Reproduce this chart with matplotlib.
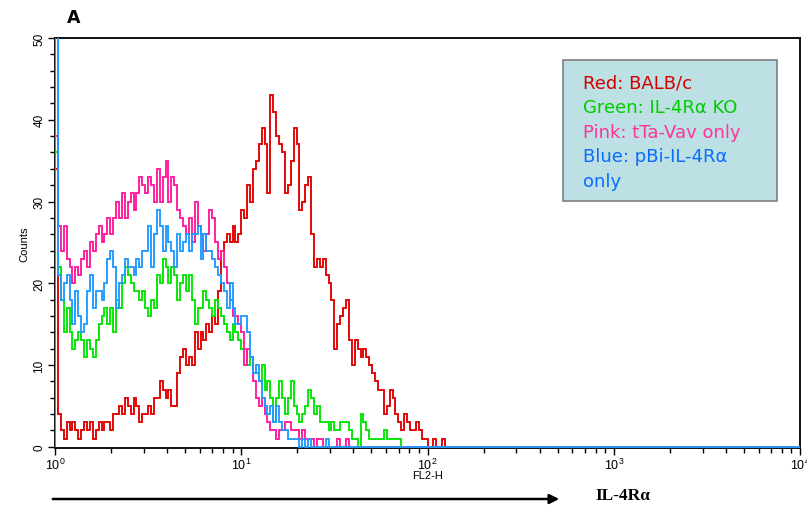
import numpy as np
import matplotlib
matplotlib.use("Agg")
import matplotlib.pyplot as plt
from matplotlib.patches import Rectangle, FancyArrowPatch

plt.rcParams['font.family'] = ['Liberation Sans', 'DejaVu Sans']
plt.rcParams['mathtext.fontset'] = 'custom'
plt.rcParams['mathtext.rm'] = 'Liberation Sans'
plt.rcParams['mathtext.it'] = 'Liberation Sans'

# ---- data: counts per channel (64 channels per decade, 256 channels over 10^0..10^4)
red = [34, 4, 2, 1, 3, 2, 3, 2, 1, 2, 3, 2, 3, 1, 2, 3, 2, 3, 3, 2, 4,
       4, 5, 4, 6, 5, 4, 6, 5, 3, 4,
       4, 5, 4, 6, 6, 8, 7, 6, 7, 5,
       5, 9, 11, 12, 10, 11, 10, 14, 12, 14,
       13, 15, 14, 16, 15, 19, 24, 25, 26, 25,
       27, 25, 26, 29, 28, 32, 30, 34, 35, 37,
       39, 37, 31, 43, 41, 38, 37, 36, 31, 32,
       35, 39, 37, 29, 30, 32, 33, 26, 22, 23,
       22, 23, 21, 20, 18, 12, 15, 16, 17, 18,
       13, 10, 13, 12, 11, 12, 11, 10, 9, 8,
       7, 7, 4, 5, 7, 6, 4, 3, 2, 4,
       3, 2, 2, 3, 2, 1, 1, 0, 0, 1,
       0, 0, 1, 0]
green = [36, 22, 18, 14, 17, 14, 12, 13, 14, 13, 11,
         13, 12, 11, 13, 15, 16, 17, 15, 17, 14,
         18, 17, 20, 22, 21, 20, 19, 19, 18, 19,
         17, 16, 18, 17, 21, 20, 23, 22, 20, 22,
         21, 18, 20, 21, 19, 21, 18, 15, 17, 17,
         19, 18, 17, 16, 18, 17, 16, 15, 14, 13,
         15, 14, 13, 12, 12, 10, 11, 9, 9, 8,
         10, 7, 8, 6, 3, 6, 8, 6, 4, 6,
         8, 5, 4, 3, 4, 5, 7, 6, 4, 5,
         3, 3, 3, 2, 3, 2, 2, 3, 3, 3,
         2, 1, 1, 0, 4, 3, 2, 1, 1, 1,
         1, 1, 2, 1, 1, 1, 1, 1, 0]
pink = [38, 27, 24, 27, 23, 22, 20, 22, 21, 23, 24,
        22, 25, 24, 26, 27, 25, 26, 28, 26, 28,
        30, 28, 31, 28, 30, 31, 29, 31, 33, 32,
        31, 33, 32, 30, 34, 30, 33, 35, 30, 33,
        32, 29, 28, 27, 26, 28, 25, 30, 27, 26,
        24, 26, 29, 28, 25, 23, 24, 22, 20, 18,
        16, 16, 15, 14, 10, 12, 11, 8, 6, 5,
        6, 4, 3, 2, 2, 1, 2, 2, 3, 3,
        2, 2, 2, 1, 2, 1, 1, 1, 0, 1,
        1, 0, 0, 0, 0, 0, 1, 0, 0, 1,
        0]
blue = [60, 21, 18, 20, 21, 18, 15, 19, 16, 14, 15,
        19, 21, 17, 19, 19, 18, 20, 23, 24, 22,
        17, 20, 21, 23, 22, 22, 21, 23, 22, 24,
        24, 27, 22, 26, 29, 27, 24, 27, 25, 24,
        22, 26, 24, 25, 26, 24, 26, 26, 27, 23,
        26, 24, 24, 23, 22, 21, 20, 19, 17, 20,
        17, 15, 15, 16, 16, 14, 11, 9, 10, 8,
        6, 5, 4, 5, 3, 5, 3, 2, 2, 1,
        1, 1, 1, 0, 1, 0, 1, 0, 0, 0,
        0, 0, 1, 0]

n_channels = 256
channels_per_decade = 64
xtick_vals = [1, 10, 100, 1000, 10000]
xtick_labels = [r'$10^{0}$', r'$10^{1}$', r'$10^{2}$', r'$10^{3}$', r'$10^{4}$']
ytick_vals = [0, 10, 20, 30, 40, 50]
legend_lines = ["Red: BALB/c", "Green: IL-4R\u03b1 KO", "Pink: tTa-Vav only",
                "Blue: pBi-IL-4R\u03b1", "only"]
legend_colors = ["#d40000", "#00cc00", "#ff3399", "#0a6cff", "#0a6cff"]


def pad(v):
    return np.array(list(v) + [0] * (n_channels - len(v)), dtype=float)


edges = 10 ** (np.arange(n_channels + 1) / channels_per_decade)

W, H = 807, 510
fig = plt.figure(figsize=(W / 100, H / 100), dpi=100)
ax = fig.add_axes([55 / W, 1 - 449 / H, (800 - 55) / W, (449 - 39) / H])

series = [(red, "#e00000"), (green, "#00e600"), (pink, "#ff1a9c"), (blue, "#1e9bff")]
for vals, col in series:
    ax.stairs(pad(vals), edges, color=col, linewidth=1.35, baseline=0, zorder=3)

ax.set_xscale("log")
ax.set_xlim(1, 10000)
ax.set_ylim(-0.15, 50)
ax.set_xticks(xtick_vals)
ax.set_xticklabels(xtick_labels)
ax.set_yticks(ytick_vals)
ax.set_yticks(np.arange(0, 51, 2), minor=True)
ax.set_yticklabels([str(v) for v in ytick_vals], rotation=90, va="center", fontsize=8.5)
ax.tick_params(axis="x", which="major", length=5, width=1, labelsize=9, pad=1)
ax.tick_params(axis="x", which="minor", length=3.5, width=1)
ax.tick_params(axis="y", which="major", length=5, width=1, pad=2)
ax.tick_params(axis="y", which="minor", length=3.5, width=1)
ax.set_xlabel("FL2-H", fontsize=8, labelpad=-1)
ax.set_ylabel("Counts", fontsize=8, labelpad=3)
for s in ax.spines.values():
    s.set_linewidth(1.4)
    s.set_color("#111111")

# legend box
fig.patches.append(Rectangle((563 / W, 1 - 202 / H), (777 - 563) / W, (202 - 61) / H,
                             transform=fig.transFigure, facecolor="#bce0e3",
                             edgecolor="#888888", linewidth=1.3, zorder=5))
ys = [83, 108, 133, 157, 182]
for txt, col, y in zip(legend_lines, legend_colors, ys):
    fig.text(583 / W, 1 - y / H, txt, color=col, fontsize=13, va="center", ha="left",
             family="DejaVu Sans", zorder=6)

# panel letter
fig.text(67 / W, 1 - 18 / H, "A", fontsize=12.5, fontweight="bold", va="center",
         ha="left", family="DejaVu Sans")

# arrow and label
arr = FancyArrowPatch((50 / W, 1 - 500 / H), (562 / W, 1 - 500 / H),
                      transform=fig.transFigure, arrowstyle="-|>", mutation_scale=14,
                      color="black", linewidth=1.8)
fig.patches.append(arr)
fig.text(595 / W, 1 - 496 / H, "IL-4R\u03b1", fontsize=12.5, fontweight="bold",
         family="Liberation Serif", va="center", ha="left")

fig.savefig("out.png", dpi=100)
